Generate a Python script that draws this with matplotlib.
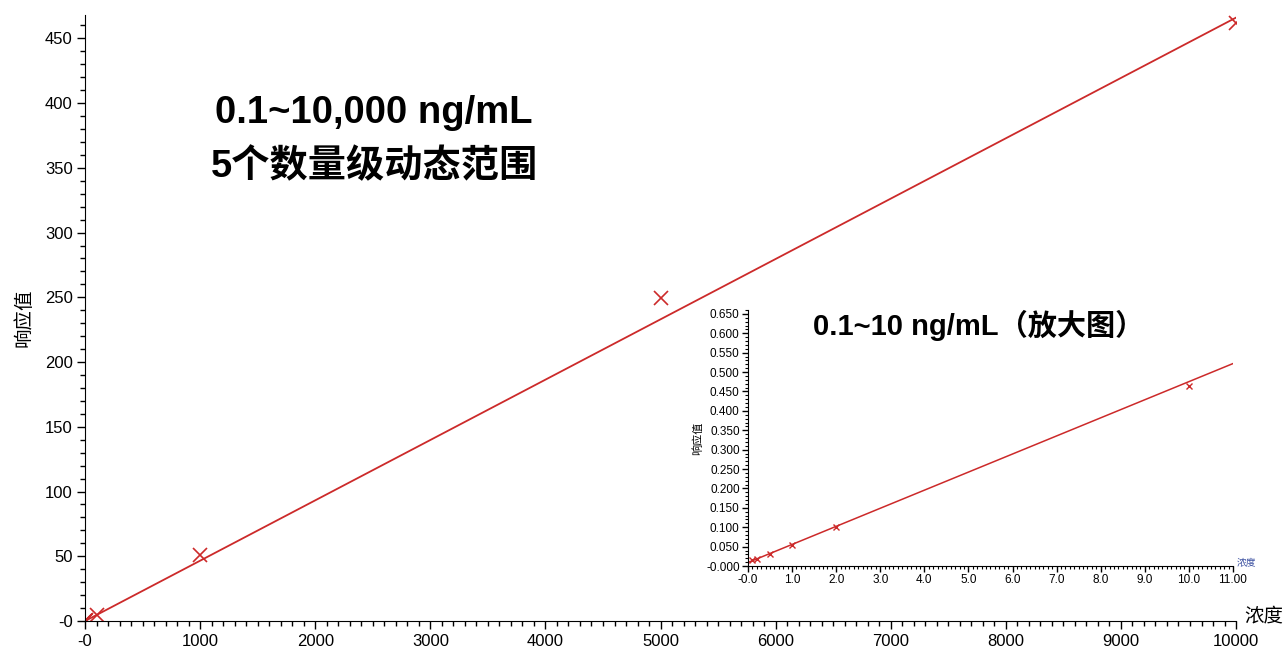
import matplotlib
matplotlib.use('Agg')
import matplotlib.pyplot as plt
from matplotlib.ticker import MultipleLocator, FuncFormatter

plt.rcParams['font.family'] = ['Liberation Sans', 'Noto Sans CJK SC', 'DejaVu Sans']

# calibration standards (ng/mL) and measured response
conc = [0.1, 0.2, 0.5, 1.0, 2.0, 10.0, 100, 1000, 5000, 10000]
response = [0.015, 0.017, 0.031, 0.054, 0.100, 0.465, 4.6, 51, 249.5, 462]

# fitted calibration line (full range and zoomed range)
fit_x = [0, 10000]
fit_y = [0.0, 466.0]
fit_x_low = [0, 11]
fit_y_low = [0.009, 0.522]

red = '#cc2a2a'

def zero_fmt(fmt):
    def f(v, pos):
        if abs(v) < 1e-12:
            return '-' + fmt.format(0)
        return fmt.format(v)
    return FuncFormatter(f)

fig = plt.figure(figsize=(12.83, 6.5), dpi=100)

# main plot
ax = fig.add_axes([0.0663, 0.0446, 0.8971, 0.9323])
ax.plot(fit_x, fit_y, color=red, lw=1.3)
ax.plot(conc, response, 'x', color=red, ms=10, mew=1.2)
ax.set_xlim(0, 10000)
ax.set_ylim(0, 468)
for s in ['top', 'right']:
    ax.spines[s].set_visible(False)
ax.xaxis.set_major_locator(MultipleLocator(1000))
ax.xaxis.set_minor_locator(MultipleLocator(100))
ax.yaxis.set_major_locator(MultipleLocator(50))
ax.yaxis.set_minor_locator(MultipleLocator(10))
ax.xaxis.set_major_formatter(zero_fmt('{:.0f}'))
ax.yaxis.set_major_formatter(zero_fmt('{:.0f}'))
ax.tick_params(which='major', direction='out', length=6, width=1, labelsize=12, pad=3)
ax.tick_params(which='minor', direction='out', length=3.5, width=1)
ax.set_ylabel('响应值', fontsize=14, labelpad=8)
ax.annotate('浓度', xy=(1, 0), xycoords='axes fraction', xytext=(6, 3),
            textcoords='offset points', fontsize=14, ha='left', va='center')

fig.text(0.2915, 0.826, '0.1~10,000 ng/mL', fontsize=27.5, fontweight='bold',
         ha='center', va='center')
fig.text(0.2915, 0.743, '5个数量级动态范围', fontsize=27.5, fontweight='bold',
         ha='center', va='center')

# zoomed inset
ins = fig.add_axes([0.583, 0.1292, 0.378, 0.3938])
ins.plot(fit_x_low, fit_y_low, color=red, lw=1.1)
ins.plot(conc[:6], response[:6], 'x', color=red, ms=4, mew=1)
ins.set_xlim(0, 11)
ins.set_ylim(0, 0.66)
for s in ['top', 'right']:
    ins.spines[s].set_visible(False)
ins.xaxis.set_major_locator(MultipleLocator(1))
ins.xaxis.set_minor_locator(MultipleLocator(0.1))
ins.yaxis.set_major_locator(MultipleLocator(0.05))
ins.yaxis.set_minor_locator(MultipleLocator(0.01))
ins.xaxis.set_major_formatter(FuncFormatter(
    lambda v, p: '-0.0' if abs(v) < 1e-9 else ('11.00' if abs(v - 11) < 1e-9 else '{:.1f}'.format(v))))
ins.yaxis.set_major_formatter(zero_fmt('{:.3f}'))
ins.tick_params(which='major', direction='out', length=4, width=1, labelsize=8.5, pad=2)
ins.tick_params(which='minor', direction='out', length=2, width=0.8)
ins.set_ylabel('响应值', fontsize=8, labelpad=2)
ins.annotate('浓度', xy=(1, 0), xycoords='axes fraction', xytext=(3, 3),
             textcoords='offset points', fontsize=7, color='#3a4fa0', ha='left', va='center')
fig.text(0.763, 0.500, '0.1~10 ng/mL（放大图）', fontsize=21, fontweight='bold',
         ha='center', va='center')

fig.savefig('out.png', dpi=100)
